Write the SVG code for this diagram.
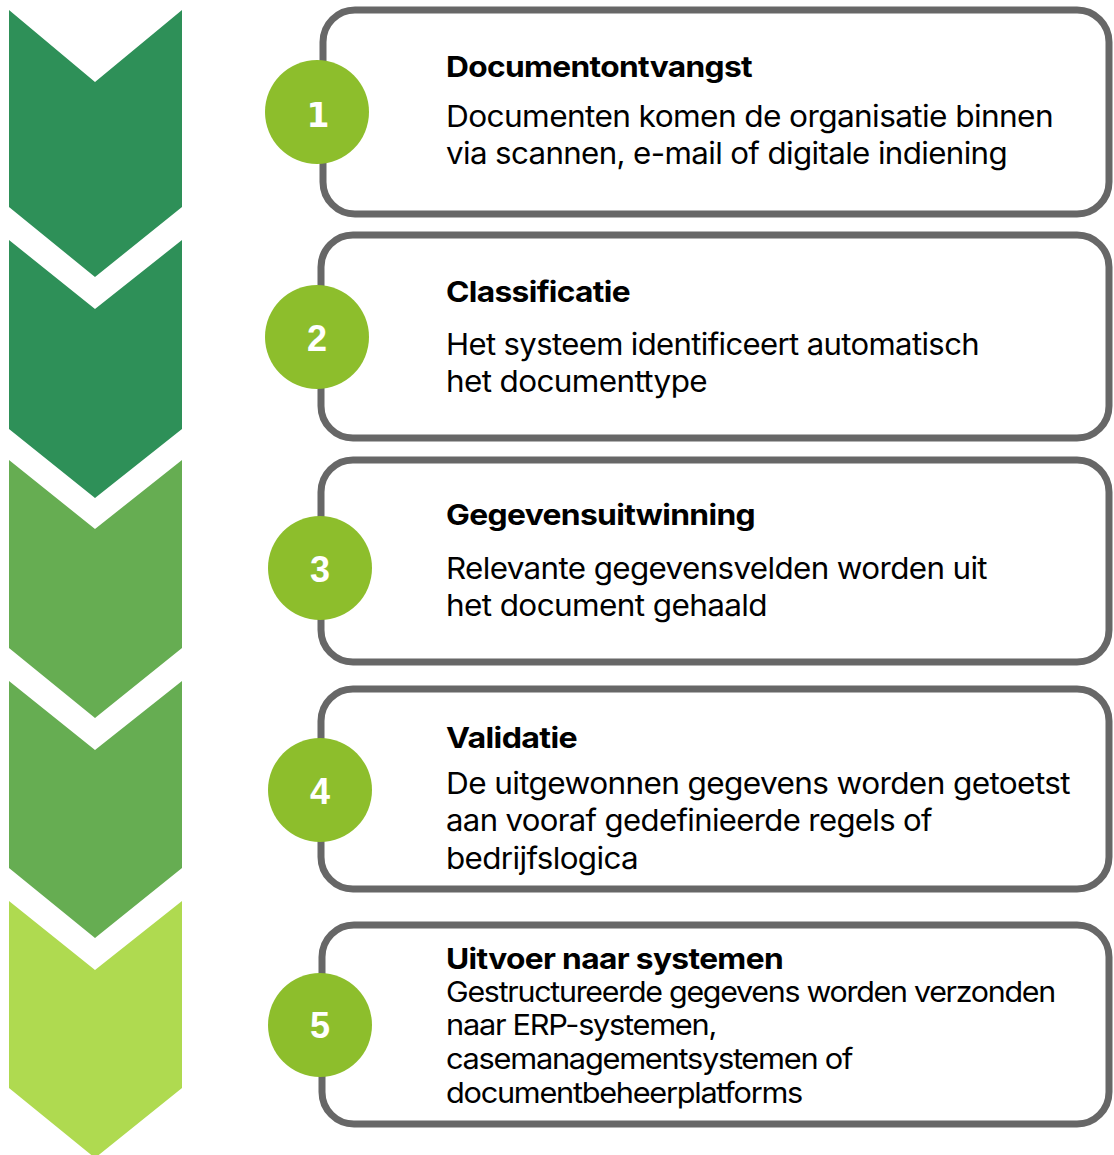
<svg xmlns="http://www.w3.org/2000/svg" width="1114" height="1155" viewBox="0 0 1114 1155">
  <style>
    .chev-dark { fill: #2E9058; }
    .chev-mid { fill: #66AD52; }
    .chev-light { fill: #AFDA50; }
    .box { fill: #FFFFFF; stroke: #676767; stroke-width: 7; }
    .badge { fill: #8DBE2C; }
    .num { font-family: "Liberation Sans", Arial, sans-serif; font-weight: 700; font-size: 36px; fill: #FFFFFF; text-anchor: middle; }
    .num1 { font-family: "DejaVu Sans", sans-serif; font-size: 33px; }
    .title { font-family: Inter, "Noto Sans", sans-serif; font-weight: 700; font-size: 29px; letter-spacing: -0.6px; fill: #000000; }
    .body { font-family: Inter, "Noto Sans", sans-serif; font-weight: 400; font-size: 30px; letter-spacing: -0.6px; fill: #000000; }
    .body5 { font-family: Inter, "Noto Sans", sans-serif; font-weight: 400; font-size: 29px; letter-spacing: -1.2px; fill: #000000; }
  </style>
  <rect width="1114" height="1155" fill="#FFFFFF"/>

  <g id="chevrons">
    <polygon class="chev-dark" points="9,10 95,82 182,10 182,207 95,277 9,207"/>
    <polygon class="chev-dark" points="9,240 95,309 182,240 182,429 95,498 9,429"/>
    <polygon class="chev-mid" points="9,460 95,529 182,460 182,648 95,718 9,648"/>
    <polygon class="chev-mid" points="9,681 95,750 182,681 182,868 95,938 9,868"/>
    <polygon class="chev-light" points="9,901 95,970 182,901 182,1088 95,1158 9,1088"/>
  </g>

  <g id="connectors"></g>

  <g id="step1">
    <rect class="box" x="323" y="10" width="786" height="204" rx="32" ry="32"/>
    <circle class="badge" cx="317" cy="112" r="52"/>
    <text class="num num1" x="318" y="127">1</text>
    <text class="title" x="446" y="77" textLength="306" lengthAdjust="spacingAndGlyphs">Documentontvangst</text>
    <text class="body" x="446" y="127" textLength="607" lengthAdjust="spacingAndGlyphs">Documenten komen de organisatie binnen</text>
    <text class="body" x="446" y="164" textLength="561" lengthAdjust="spacingAndGlyphs">via scannen, e-mail of digitale indiening</text>
  </g>

  <g id="step2">
    <rect class="box" x="321" y="235" width="788" height="203" rx="32" ry="32"/>
    <circle class="badge" cx="317" cy="337" r="52"/>
    <text class="num" x="317" y="351">2</text>
    <text class="title" x="446" y="302" textLength="184" lengthAdjust="spacingAndGlyphs">Classificatie</text>
    <text class="body" x="446" y="355" textLength="533" lengthAdjust="spacingAndGlyphs">Het systeem identificeert automatisch</text>
    <text class="body" x="446" y="392" textLength="261" lengthAdjust="spacingAndGlyphs">het documenttype</text>
  </g>

  <g id="step3">
    <rect class="box" x="321" y="460" width="788" height="202" rx="32" ry="32"/>
    <circle class="badge" cx="320" cy="568" r="52"/>
    <text class="num" x="320" y="582">3</text>
    <text class="title" x="446" y="525" textLength="309" lengthAdjust="spacingAndGlyphs">Gegevensuitwinning</text>
    <text class="body" x="446" y="579" textLength="541" lengthAdjust="spacingAndGlyphs">Relevante gegevensvelden worden uit</text>
    <text class="body" x="446" y="616" textLength="321" lengthAdjust="spacingAndGlyphs">het document gehaald</text>
  </g>

  <g id="step4">
    <rect class="box" x="321" y="689" width="788" height="200" rx="32" ry="32"/>
    <circle class="badge" cx="320" cy="790" r="52"/>
    <text class="num" x="320" y="804">4</text>
    <text class="title" x="446" y="748" textLength="131" lengthAdjust="spacingAndGlyphs">Validatie</text>
    <text class="body" x="446" y="794" textLength="624" lengthAdjust="spacingAndGlyphs">De uitgewonnen gegevens worden getoetst</text>
    <text class="body" x="446" y="831" textLength="486" lengthAdjust="spacingAndGlyphs">aan vooraf gedefinieerde regels of</text>
    <text class="body" x="446" y="869" textLength="192" lengthAdjust="spacingAndGlyphs">bedrijfslogica</text>
  </g>

  <g id="step5">
    <rect class="box" x="322" y="925" width="787" height="199" rx="32" ry="32"/>
    <circle class="badge" cx="320" cy="1025" r="52"/>
    <text class="num" x="320" y="1038">5</text>
    <text class="title" x="446" y="969" textLength="337" lengthAdjust="spacingAndGlyphs">Uitvoer naar systemen</text>
    <text class="body5" x="446" y="1002" textLength="609" lengthAdjust="spacingAndGlyphs">Gestructureerde gegevens worden verzonden</text>
    <text class="body5" x="446" y="1035" textLength="270" lengthAdjust="spacingAndGlyphs">naar ERP-systemen,</text>
    <text class="body5" x="446" y="1069" textLength="406" lengthAdjust="spacingAndGlyphs">casemanagementsystemen of</text>
    <text class="body5" x="446" y="1103" textLength="356" lengthAdjust="spacingAndGlyphs">documentbeheerplatforms</text>
  </g>
</svg>
